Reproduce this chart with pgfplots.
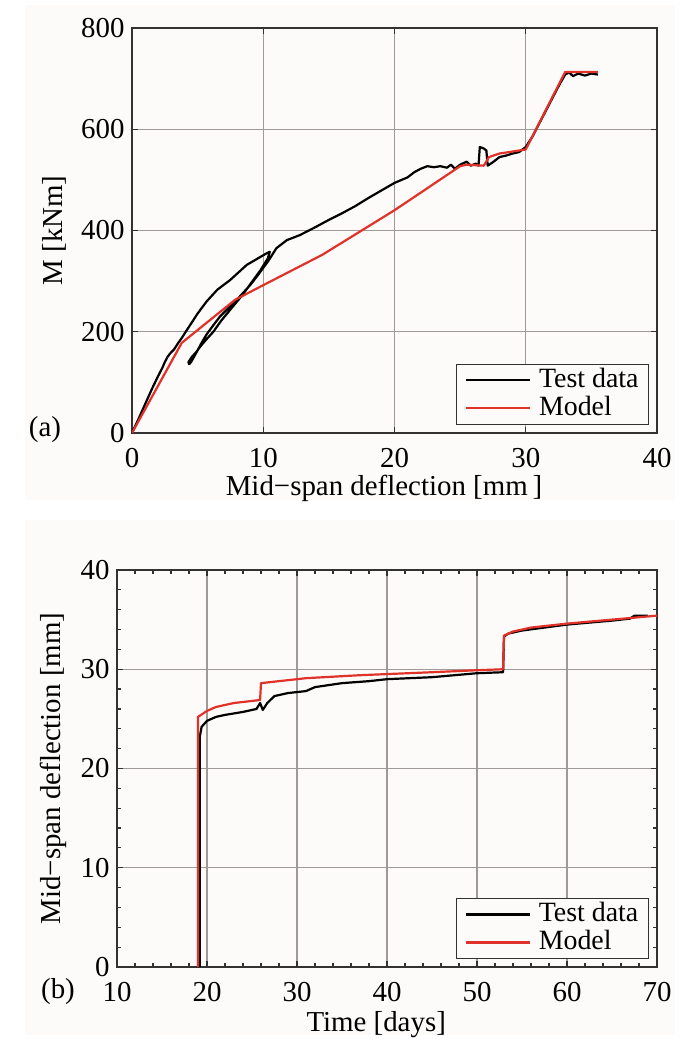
\documentclass[border=0pt]{standalone}
\usepackage{pgfplots}
\pgfplotsset{compat=1.18}
\usepackage{fontspec}
\setmainfont{Liberation Serif}
\definecolor{bgc}{RGB}{253,251,250}
\definecolor{gridc}{RGB}{160,154,150}
\definecolor{redc}{RGB}{225,50,42}
\definecolor{axc}{RGB}{50,50,50}
\pgfplotsset{
  myaxis/.style={
    scale only axis,
    axis background/.style={fill=bgc},
    axis line style={axc, line width=1.6bp},
    grid=major,
    major grid style={gridc, line width=1.4bp},
    tick style={axc, line width=1.2bp},
    major tick length=6bp,
    minor tick length=4bp,
    tick align=inside,
    ticklabel style={font=\fontsize{29}{31}\selectfont},
    xticklabel style={yshift=-12bp},
    yticklabel style={xshift=-4bp},
    /pgf/number format/assume math mode=true,
    label style={font=\fontsize{29}{31}\selectfont},
    legend style={font=\fontsize{28}{30}\selectfont, draw=axc, line width=1.2bp,
      at={(0.985,0.02)}, anchor=south east, row sep=2bp, inner xsep=8bp, inner ysep=3bp,
      cells={anchor=west}, fill=bgc,
      nodes={inner ysep=0bp, text height=20bp, text depth=6bp}},
    legend image code/.code={\draw[#1] (0bp,0bp) -- (64bp,0bp); \path (70bp,0bp);},
    every axis plot/.append style={line width=2.2bp, line join=round},
  }
}
\begin{document}
\begin{tikzpicture}
\path[use as bounding box, fill=white] (0bp,0bp) rectangle (688bp,1040bp);
\fill[bgc] (25bp,540bp) rectangle (675bp,1035bp);
\fill[bgc] (25bp,5bp) rectangle (675bp,520bp);
% panel (a)
\begin{axis}[myaxis,
  at={(132bp,607bp)}, anchor=south west,
  width=525bp, height=405bp,
  xmin=0, xmax=40, ymin=0, ymax=800,
  xtick={0,10,20,30,40}, ytick={0,200,400,600,800},
  xlabel={Mid\textminus span deflection [mm\,]},
  ylabel={M [kNm]},
  xlabel style={at={(axis description cs:0.48,-0.137)}, anchor=center},
  ylabel style={at={(axis description cs:-0.147,0.5)}, anchor=center},
]
\addplot[black] coordinates {
(0,0) (0.5,28) (1,57) (1.5,86) (2,113) (2.3,128) (2.5,140) (2.7,150) (2.9,157) (3.2,165) (3.5,177) (3.8,188) (4.17,203) (4.6,220) (5,236) (5.69,260) (6.5,283) (7.47,302) (8.74,332) (9.6,345) (10.26,355) (10.5,358)
(10.35,345) (9.8,322) (9.24,302) (8.4,272) (7.47,243) (6.8,222) (6.2,200) (5.6,183) (5.18,170) (4.9,160) (4.55,150) (4.3,140) (4.35,136) (4.5,140)
(4.93,160) (5.3,178) (5.69,195) (6.2,213) (6.7,230) (7.98,263) (9.0,292) (9.6,312) (10.39,340) (11.0,365) (11.8,381) (12.8,391) (14,407) (15,421) (16,434) (17,448) (18,464) (19,479) (20,494) (21,505) (21.5,515) (22,522) (22.5,527) (23,525) (23.5,527) (24,524) (24.3,530) (24.6,522) (25,530) (25.5,536) (25.8,528) (26.2,532) (26.4,528) (26.5,565) (26.8,562) (27.0,558) (27.1,528) (27.5,535) (28,545) (28.5,548) (29,552) (29.5,555) (30,565) (30.5,585) (31,610) (31.5,635) (32,660) (32.5,685) (33,708) (33.3,712) (33.6,705) (34,710) (34.5,706) (35,710) (35.5,708)
};
\addlegendentry{Test data}
\addplot[redc] coordinates {
(0,0) (3.79,178) (7.85,263) (10,292) (14.5,352) (20,440) (25,527) (25.5,530) (26.8,528) (27.2,545) (28,552) (29,556) (30,560) (33,713) (35.5,713)
};
\addlegendentry{Model}
\end{axis}
\node[font=\fontsize{29}{31}\selectfont] at (45bp,610bp) {(a)};
% panel (b)
\begin{axis}[myaxis,
  at={(117bp,73bp)}, anchor=south west,
  width=540bp, height=397bp,
  xmin=10, xmax=70, ymin=0, ymax=40,
  xtick={10,20,...,70}, ytick={0,10,...,40},
  minor x tick num=4, minor y tick num=4,
  xlabel={Time [days]},
  ylabel={Mid\textminus span deflection [mm]},
  xlabel style={at={(axis description cs:0.48,-0.144)}, anchor=center},
  ylabel style={at={(axis description cs:-0.118,0.5)}, anchor=center},
]
\addplot[black] coordinates {
(19.2,0) (19.2,23.2) (19.4,24.2) (20,24.8) (21,25.2) (22,25.4) (24,25.7) (25.5,26.0) (25.9,26.6) (26.2,25.9) (26.7,26.6) (27.5,27.3) (29,27.6) (31,27.8) (32,28.2) (35,28.6) (38,28.8) (40,29.0) (45,29.2) (50,29.6) (52.9,29.7) (53.0,33.3) (53.5,33.6) (55,33.9) (60,34.5) (65,34.9) (67,35.1) (67.5,35.4) (69,35.4)
};
\addlegendentry{Test data}
\addplot[redc] coordinates {
(19,0) (19,25.2) (20,25.8) (21,26.2) (23,26.6) (25.9,26.9) (26,28.6) (28,28.8) (31,29.1) (37,29.4) (45,29.7) (50,29.9) (52.9,30.0) (53,33.4) (54,33.8) (56,34.2) (60,34.6) (65,35.0) (70,35.4)
};
\addlegendentry{Model}
\end{axis}
\node[font=\fontsize{29}{31}\selectfont] at (58bp,48bp) {(b)};
\end{tikzpicture}
\end{document}
